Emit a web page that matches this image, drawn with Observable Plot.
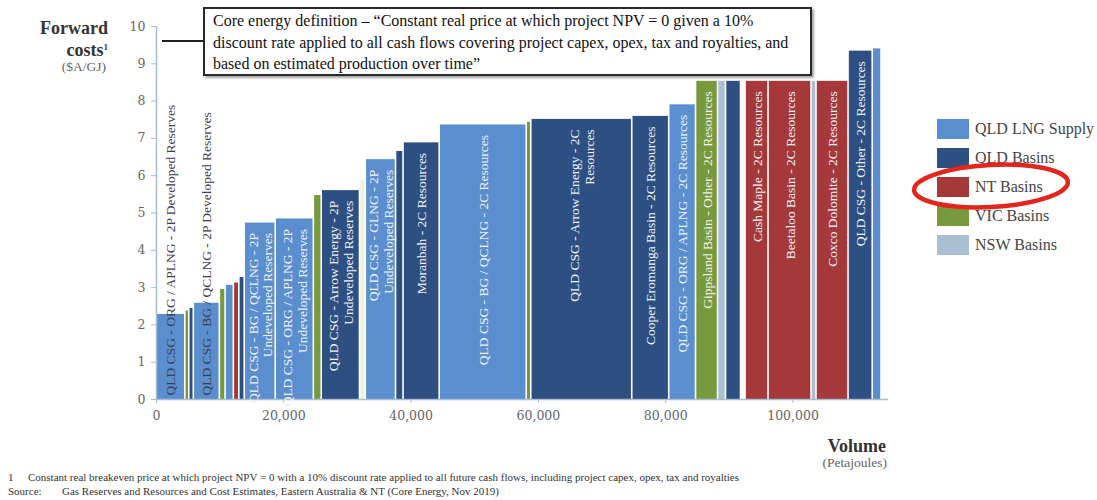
<!DOCTYPE html>
<html><head><meta charset="utf-8">
<script src="https://cdn.jsdelivr.net/npm/d3@7"></script>
<script src="https://cdn.jsdelivr.net/npm/@observablehq/plot@0.6"></script>
<style>
body{margin:0;background:#fff;font-family:"Liberation Serif",serif;}
#wrap{position:relative;width:1097px;height:500px;overflow:hidden;background:#fff;}
#chart{position:absolute;left:0;top:0;}
.abs{position:absolute;white-space:nowrap;}
.sw{position:absolute;width:32px;height:20px;left:937px;}
.lg{position:absolute;left:975px;font-size:16px;color:#444;line-height:20px;}
.fn{font-size:11px;color:#333;}
</style></head><body>
<div id="wrap">
  <div id="chart"></div>
  <div class="abs" style="left:0;top:19px;width:108px;text-align:right;font-weight:bold;font-size:18px;line-height:18.5px;color:#333;">Forward<br>costs<sup style="font-size:9px;vertical-align:6px">1</sup></div>
  <div class="abs" style="left:0;top:59px;width:106px;text-align:right;font-size:13.5px;color:#666;">($A/GJ)</div>
  <div class="abs" style="left:162px;top:40px;width:42px;height:2px;background:#222;"></div>
  <div class="abs" style="left:203px;top:7px;width:597px;height:64px;border:2px solid #2a2a2a;background:#fff;box-shadow:2px 2px 2px rgba(0,0,0,0.35);font-size:16px;line-height:21.5px;color:#111;padding:1px 0 0 8px;box-sizing:content-box;" id="note"></div>
  <div class="abs" style="left:780px;top:436px;width:106px;text-align:right;font-weight:bold;font-size:18px;color:#333;">Volume</div>
  <div class="abs" style="left:780px;top:455px;width:107px;text-align:right;font-size:13.5px;color:#666;">(Petajoules)</div>
  <div class="abs fn" style="left:8px;top:471px;">1</div>
  <div class="abs fn" style="left:28px;top:471px;" id="fn1"></div>
  <div class="abs fn" style="left:8px;top:485px;">Source:</div>
  <div class="abs fn" style="left:62px;top:485px;" id="fn2"></div>
  <div id="legend"></div>
  <svg class="abs" style="left:0;top:0" width="1097" height="500"><ellipse cx="991" cy="186" rx="77" ry="21" fill="none" stroke="#e3261d" stroke-width="4.5" transform="rotate(-3 991 186)"/></svg>
</div>
<script>
// ---- data ----
const seriesNames = ["QLD LNG Supply", "QLD Basins", "NT Basins", "VIC Basins", "NSW Basins"];
const seriesColors = ["#5a8ecf", "#2e4f81", "#a5393a", "#789a3c", "#abbfd3"];

// projects in merit order (cheapest first)
const categories = [
  "QLD LNG Supply", "VIC Basins", "QLD Basins", "QLD LNG Supply", "VIC Basins", "QLD LNG Supply", "NT Basins", "QLD Basins",
  "QLD LNG Supply", "QLD LNG Supply", "VIC Basins", "QLD Basins", "Other", "QLD LNG Supply", "QLD Basins", "QLD Basins",
  "QLD LNG Supply", "VIC Basins", "QLD Basins", "QLD Basins", "QLD LNG Supply", "VIC Basins", "NSW Basins", "QLD Basins",
  "Gap", "NT Basins", "NT Basins", "NSW Basins", "NT Basins", "QLD Basins", "QLD LNG Supply"
];
const volumes = [ // PJ
  4520, 630, 710, 4090, 900, 1300, 860, 850,
  4870, 5990, 1240, 6010, 910, 4750, 1180, 5680,
  13670, 720, 15860, 5810, 4210, 3460, 1250, 2360,
  710, 3610, 6760, 780, 5030, 3800, 1380
];
const costs = [ // $A/GJ
  2.28, 2.37, 2.44, 2.58, 2.95, 3.06, 3.12, 3.27,
  4.73, 4.84, 5.47, 5.60, 5.87, 6.43, 6.65, 6.88,
  7.36, 7.43, 7.51, 7.59, 7.90, 8.53, 8.53, 8.53,
  0, 8.53, 8.53, 8.53, 8.53, 9.34, 9.40
];
const labels = [
  "QLD CSG - ORG / APLNG - 2P Developed Reserves", "", "", "QLD CSG - BG / QCLNG - 2P Developed Reserves", "", "", "", "",
  "QLD CSG - BG / QCLNG - 2P\nUndeveloped Reserves", "QLD CSG - ORG / APLNG - 2P\nUndeveloped Reserves", "",
  "QLD CSG - Arrow Energy - 2P\nUndeveloped Reserves", "", "QLD CSG - GLNG - 2P\nUndeveloped Reserves", "", "Moranbah - 2C Resources",
  "QLD CSG - BG / QCLNG - 2C Resources", "", "QLD CSG - Arrow Energy - 2C\nResources", "Cooper Eromanga Basin - 2C Resources",
  "QLD CSG - ORG / APLNG - 2C Resources", "Gippsland Basin - Other - 2C Resources", "", "",
  "", "Cash Maple - 2C Resources", "Beetaloo Basin - 2C Resources", "", "Coxco Dolomite - 2C Resources", "QLD CSG - Other - 2C Resources", ""
];
const xTicks = [0, 20000, 40000, 60000, 80000, 100000];
const yTicks = [0, 1, 2, 3, 4, 5, 6, 7, 8, 9, 10];

const noteLines = [
  "Core energy definition \u2013 \u201cConstant real price at which project NPV = 0 given a 10%",
  "discount rate applied to all cash flows covering project capex, opex, tax and royalties, and",
  "based on estimated production over time\u201d"
];
const footnote = "Constant real breakeven price at which project NPV = 0 with a 10% discount rate applied to all future cash flows, including project capex, opex, tax and royalties";
const source = "Gas Reserves and Resources and Cost Estimates, Eastern Australia & NT (Core Energy, Nov 2019)";

// ---- build rows ----
let cum = 0;
const rows = volumes.map((v, i) => {
  const r = {x1: cum, x2: cum + v, mid: cum + v / 2, cost: costs[i], cat: categories[i], label: labels[i]};
  cum += v;
  return r;
});
const lowRows = rows.filter(r => r.label && r.cost < 4);
const highRows = rows.filter(r => r.label && r.cost >= 4);

const axisColor = "#a9bdd2";
const chart = Plot.plot({
  width: 1097, height: 500,
  marginLeft: 156, marginRight: 209, marginTop: 26, marginBottom: 101,
  x: {domain: [0, 115000]},
  y: {domain: [0, 10]},
  color: {domain: [...seriesNames, "Other", "Gap"], range: [...seriesColors, "#edf1e4", "none"]},
  style: {fontFamily: "Liberation Serif", background: "transparent"},
  marks: [
    Plot.rect(rows, {x1: "x1", x2: "x2", y1: 0, y2: "cost", fill: "cat", insetLeft: 0.8, insetRight: 0.8}),
    Plot.ruleY([0], {stroke: axisColor, strokeWidth: 1.5}),
    Plot.ruleX([0], {stroke: axisColor, strokeWidth: 1.5}),
    Plot.axisX({ticks: xTicks, tickFormat: d3.format(","), tickSize: 4, tickPadding: 8, stroke: axisColor, fill: "#666", fontFamily: "DejaVu Serif", fontSize: 12.5, label: null}),
    Plot.axisY({ticks: yTicks, tickSize: 5, tickPadding: 6, stroke: axisColor, fill: "#666", fontFamily: "DejaVu Serif", fontSize: 12.5, label: null}),
    Plot.text(highRows, {x: "mid", y: "cost", text: "label", rotate: -90, textAnchor: "end", dy: 10, fill: "#eef2f7", fontSize: 13.5, lineHeight: 1.1, ariaLabel: "bar labels"}),
    Plot.text(lowRows, {x: "mid", y: 0, text: "label", rotate: -90, textAnchor: "start", dy: -4, fill: "#3b4256", fontSize: 13.5})
  ]
});
document.getElementById("chart").appendChild(chart);

// center second lines of two-line labels on the first line
chart.querySelectorAll('g[aria-label="bar labels"] text').forEach(t => {
  const spans = t.querySelectorAll("tspan");
  if (spans.length > 1) {
    const L1 = spans[0].getComputedTextLength();
    for (let k = 1; k < spans.length; k++) {
      const L2 = spans[k].getComputedTextLength();
      spans[k].setAttribute("x", -L1 / 2 + L2 / 2);
    }
  }
});

document.getElementById("note").innerHTML = noteLines.join("<br>");
document.getElementById("fn1").textContent = footnote;
document.getElementById("fn2").textContent = source;

const legend = document.getElementById("legend");
seriesNames.forEach((n, i) => {
  const top = 119 + i * 29;
  const s = document.createElement("div");
  s.className = "sw"; s.style.top = top + "px"; s.style.background = seriesColors[i];
  legend.appendChild(s);
  const l = document.createElement("div");
  l.className = "lg"; l.style.top = top + "px"; l.textContent = n;
  legend.appendChild(l);
});
</script>
</body></html>
